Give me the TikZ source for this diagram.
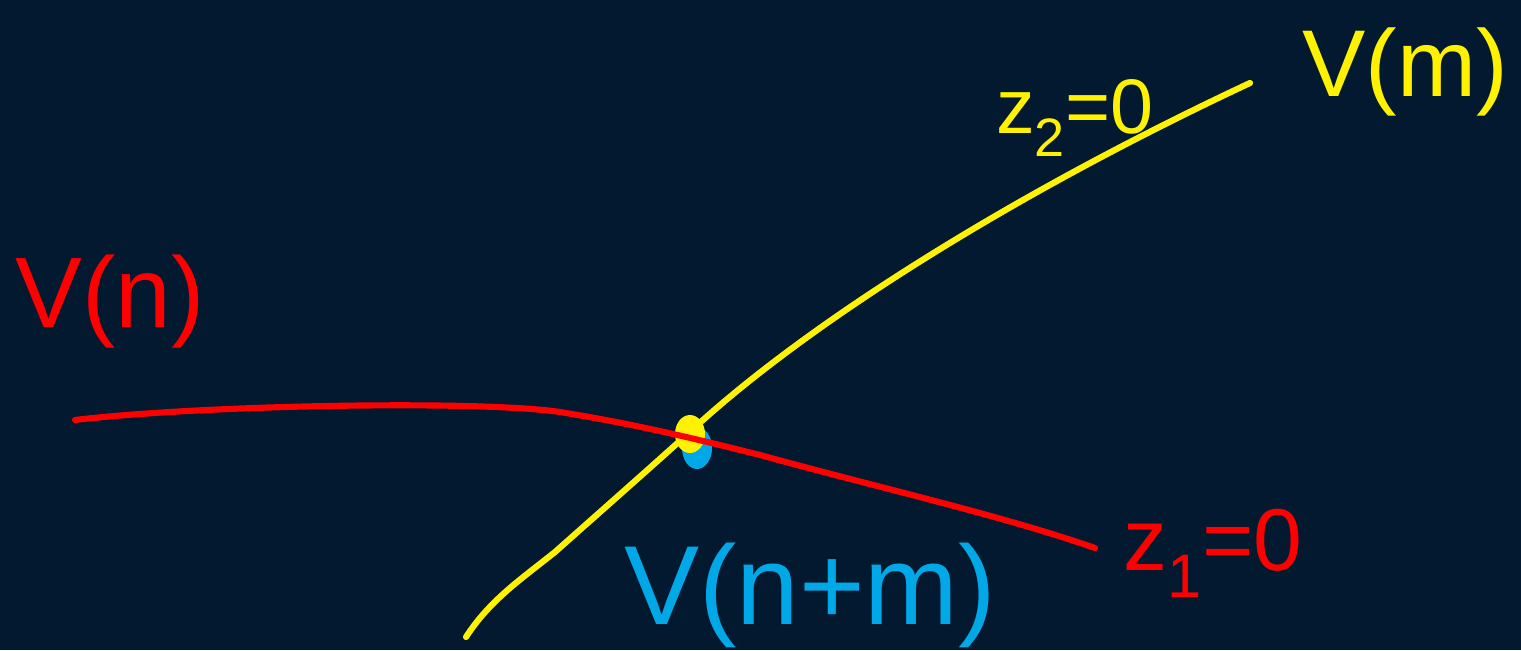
\documentclass[tikz,border=0pt]{standalone}
\usepackage{fontspec}
\setmainfont{Liberation Sans}
\definecolor{bg}{RGB}{2,25,47}
\definecolor{hy}{RGB}{255,242,0}
\definecolor{hr}{RGB}{255,0,0}
\definecolor{hc}{RGB}{0,168,232}
\tikzset{
  stroke/.style={line width=3.5pt, line cap=round, line join=round},
  lbl/.style={inner sep=0pt, font=#1},
}
\begin{document}
\begin{tikzpicture}[x=0.02cm,y=-0.02cm]
\fill[bg] (0,0) rectangle (1521,650);
\useasboundingbox (0,0) rectangle (1521,650);
% intersection point
\fill[hc] (697,448) ellipse [x radius=15, y radius=21];
\fill[hy] (690,434) ellipse [x radius=15, y radius=19];
% curve z2=0 (yellow)
\draw[stroke, hy] (466,637) .. controls (490,600) and (520,580) .. (555,552)
  .. controls (600,512) and (650,468) .. (692,430)
  .. controls (800,330) and (1000,200) .. (1250,83);
% curve z1=0 (red)
\draw[stroke, hr] (75,420) .. controls (200,405) and (480,400) .. (560,412)
  .. controls (640,425) and (700,440) .. (760,455)
  .. controls (880,488) and (1000,515) .. (1095,548);
% labels
\node[lbl={\fontsize{57}{60}\selectfont}, text=hr] (vn) at (110,302) {V(n)};
\node[lbl={\fontsize{54}{58}\selectfont}, text=hy] (vm) at (1405,72) {V(m)};
\node[lbl={\fontsize{64}{68}\selectfont}, text=hc] (vnm) at (810,595) {V(n+m)};
\node[lbl={\fontsize{50}{54}\selectfont}, text=hr] (z1) at (1213,553) {z\textsubscript{1}=0};
\node[lbl={\fontsize{44}{50}\selectfont}, text=hy] (z2) at (1075,118) {z\textsubscript{2}=0};
\end{tikzpicture}
\end{document}
